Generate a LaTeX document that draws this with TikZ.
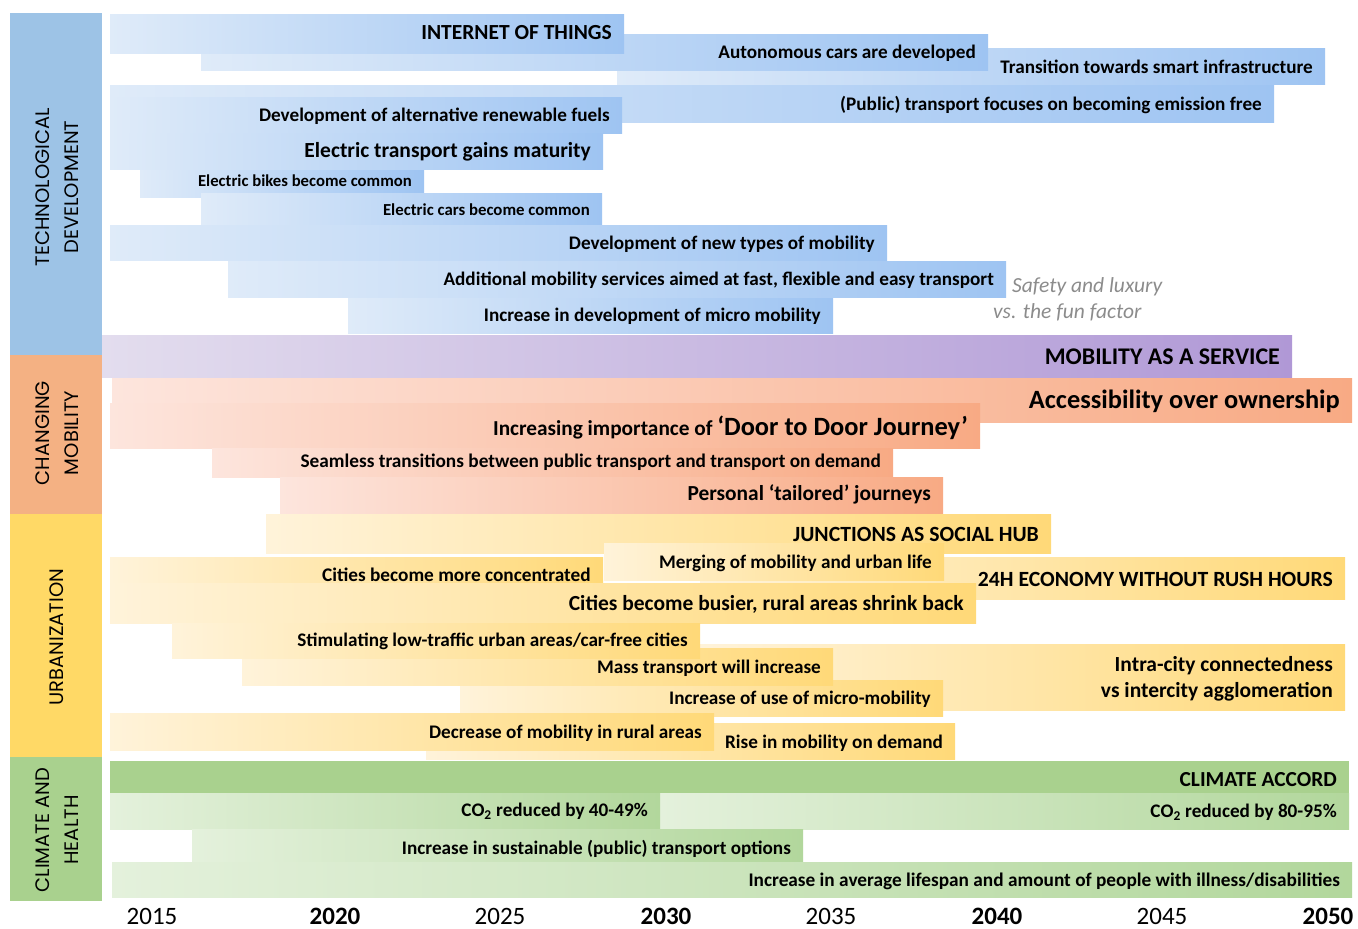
\documentclass[tikz,border=0pt]{standalone}
\usepackage{fontspec}
\setmainfont{Carlito}
\newfontfamily\popfont{Poppins}
\definecolor{bL}{RGB}{223,235,249}
\definecolor{bR}{RGB}{158,196,242}
\definecolor{pL}{RGB}{227,221,238}
\definecolor{pR}{RGB}{176,152,214}
\definecolor{oL}{RGB}{253,229,221}
\definecolor{oR}{RGB}{248,170,132}
\definecolor{yL}{RGB}{255,243,218}
\definecolor{yR}{RGB}{255,217,120}
\definecolor{gL}{RGB}{228,241,220}
\definecolor{gR}{RGB}{178,215,156}
\definecolor{cTech}{RGB}{157,195,230}
\definecolor{cMob}{RGB}{244,177,131}
\definecolor{cUrb}{RGB}{255,217,102}
\definecolor{cCli}{RGB}{169,209,142}
\definecolor{noteGray}{RGB}{140,140,140}
\newcommand\fsz[1]{\fontsize{#1}{#1}\selectfont}
\tikzset{
  lbl/.style={anchor=base east, inner sep=0pt, text=black},
  bluebar/.style={left color=bL, right color=bR},
  purplebar/.style={left color=pL, right color=pR},
  orangebar/.style={left color=oL, right color=oR},
  yellowbar/.style={left color=yL, right color=yR},
  greenbar/.style={left color=gL, right color=gR},
  solidgreen/.style={fill=cCli},
  catlabel/.style={rotate=90, align=center, inner sep=0pt, text=black, font=\popfont\fontsize{19.5}{29}\selectfont},
  yearlbl/.style={anchor=base, inner sep=0pt, text=black, font=\fsz{25}},
  note/.style={anchor=base west, inner sep=0pt, text=noteGray, font=\fsz{21.5}\itshape}
}
% name, x1, y1, x2, y2, style, y of text middle, size, text
\newcommand\tlbar[9]{%
  \fill[#6] (#2,#3) rectangle (#4,#5);
  \node[lbl,font=\fsz{#8}\bfseries] (#1) at ({#4-12},{#7+0.322*#8}) {#9};}
\begin{document}
\begin{tikzpicture}[x=1pt,y=-1pt]
\useasboundingbox[fill=white] (0,0) rectangle (1358,929);
% category column
\fill[cTech] (10,13) rectangle (102,355);
\fill[cMob] (10,355) rectangle (102,514);
\fill[cUrb] (10,514) rectangle (102,757);
\fill[cCli] (10,757) rectangle (102,901);
\node[catlabel] (tech) at (57,187) {TECHNOLOGICAL\\DEVELOPMENT};
\node[catlabel] (mob) at (57,433) {CHANGING\\MOBILITY};
\node[catlabel] (urb) at (57,637) {URBANIZATION};
\node[catlabel] (cli) at (57,830) {CLIMATE AND\\HEALTH};
% technological development
\tlbar{trans}{617}{48}{1325}{84}{bluebar}{67}{19.2}{Transition towards smart infrastructure}
\tlbar{auto}{201}{34}{988}{70}{bluebar}{52}{19.2}{Autonomous cars are developed}
\tlbar{iot}{110}{14}{624}{53}{bluebar}{33}{21.5}{INTERNET OF THINGS}
\tlbar{public}{110}{85}{1274}{122}{bluebar}{104}{19.2}{(Public) transport focuses on becoming emission free}
\tlbar{fuels}{110}{97}{622}{133}{bluebar}{115}{19.2}{Development of alternative renewable fuels}
\tlbar{etrans}{110}{133}{603}{169}{bluebar}{151}{21.5}{Electric transport gains maturity}
\tlbar{ebikes}{140}{170}{424}{197}{bluebar}{181}{16.7}{Electric bikes become common}
\tlbar{ecars}{201}{193}{602}{224}{bluebar}{210}{16.8}{Electric cars become common}
\tlbar{newtypes}{110}{225}{887}{260}{bluebar}{243}{19.2}{Development of new types of mobility}
\tlbar{addl}{228}{261}{1006}{297}{bluebar}{279}{19.2}{Additional mobility services aimed at fast, flexible and easy transport}
\tlbar{micro}{348}{298}{833}{333}{bluebar}{315}{19.2}{Increase in development of micro mobility}
\node[note] (safety) at (1012,292) {Safety and luxury};
\node[note] (fun) at (993,318) {vs. the fun factor};
% mobility as a service
\tlbar{maas}{102}{335}{1292}{377}{purplebar}{357}{23.9}{MOBILITY AS A SERVICE}
% changing mobility
\tlbar{access}{112}{378}{1352}{422}{orangebar}{400}{26.4}{Accessibility over ownership}
\tlbar{door}{110}{403}{980}{448}{orangebar}{427}{26.4}{{\fsz{21.3}Increasing importance of }‘Door to Door Journey’}
\tlbar{seam}{212}{448}{893}{477}{orangebar}{461}{19.3}{Seamless transitions between public transport and transport on demand}
\tlbar{pers}{280}{477}{943}{514}{orangebar}{494}{21.4}{Personal ‘tailored’ journeys}
% urbanization
\tlbar{h24}{700}{557}{1345}{599}{yellowbar}{580}{21.7}{24H ECONOMY WITHOUT RUSH HOURS}
\tlbar{junc}{266}{514}{1051}{553}{yellowbar}{535}{21.7}{JUNCTIONS AS SOCIAL HUB}
\tlbar{merg}{604}{543}{944}{580}{yellowbar}{562}{19.2}{Merging of mobility and urban life}
\tlbar{conc}{110}{557}{603}{583}{yellowbar}{575}{19.3}{Cities become more concentrated}
\tlbar{busy}{110}{583}{976}{623}{yellowbar}{604}{21.5}{Cities become busier, rural areas shrink back}
\tlbar{intra}{700}{644}{1345}{710}{yellowbar}{665}{21.5}{Intra-city connectedness}
\node[lbl,font=\fsz{21.5}\bfseries] (intra2) at (1333,{691+0.322*21.5}) {vs intercity agglomeration};
\tlbar{umicro}{460}{680}{943}{716}{yellowbar}{698}{19.2}{Increase of use of micro-mobility}
\tlbar{mass}{242}{648}{833}{685}{yellowbar}{667}{19.2}{Mass transport will increase}
\tlbar{stim}{172}{623}{700}{658}{yellowbar}{640}{19.2}{Stimulating low-traffic urban areas/car-free cities}
\tlbar{rise}{426}{723}{955}{759}{yellowbar}{742}{19.2}{Rise in mobility on demand}
\tlbar{decr}{110}{713}{714}{750}{yellowbar}{732}{19.2}{Decrease of mobility in rural areas}
% climate and health
\tlbar{accord}{110}{761}{1349}{793}{solidgreen}{780}{21.4}{CLIMATE ACCORD}
\tlbar{co80}{660}{793}{1349}{829}{greenbar}{811}{19.2}{CO\textsubscript{2} reduced by 80-95\%}
\tlbar{co40}{110}{793}{660}{829}{greenbar}{810}{19.2}{CO\textsubscript{2} reduced by 40-49\%}
\tlbar{sust}{192}{829}{803}{862}{greenbar}{848}{19.2}{Increase in sustainable (public) transport options}
\tlbar{life}{112}{862}{1352}{897}{greenbar}{880}{19.3}{Increase in average lifespan and amount of people with illness/disabilities}
% years
\node[yearlbl] (y2015) at (152,924) {2015};
\node[yearlbl,font=\fsz{25}\bfseries] (y2020) at (335,924) {2020};
\node[yearlbl] (y2025) at (500,924) {2025};
\node[yearlbl,font=\fsz{25}\bfseries] (y2030) at (666,924) {2030};
\node[yearlbl] (y2035) at (831,924) {2035};
\node[yearlbl,font=\fsz{25}\bfseries] (y2040) at (997,924) {2040};
\node[yearlbl] (y2045) at (1162,924) {2045};
\node[yearlbl,font=\fsz{25}\bfseries] (y2050) at (1328,924) {2050};
\end{tikzpicture}
\end{document}
